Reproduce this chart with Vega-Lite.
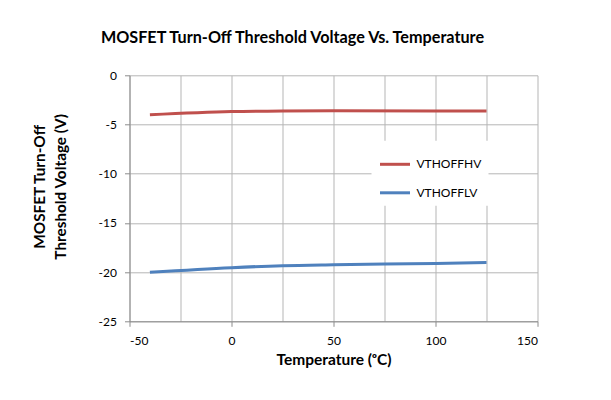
{
  "$schema": "https://vega.github.io/schema/vega-lite/v6.json",
  "autosize": "none",
  "width": 408,
  "height": 246,
  "padding": {"left": 129.5, "top": 75.3, "right": 73.5, "bottom": 78.7},
  "background": "white",
  "title": {
    "text": "MOSFET Turn-Off Threshold Voltage Vs. Temperature",
    "font": "Lato",
    "fontSize": 16.2,
    "fontWeight": "bold",
    "color": "#000000",
    "anchor": "middle",
    "frame": "group",
    "baseline": "alphabetic",
    "offset": 10,
    "dx": -41
  },
  "data": {
    "values": [
      {"temp": -40, "v": -4.02, "series": "VTHOFFHV"},
      {"temp": 0, "v": -3.69, "series": "VTHOFFHV"},
      {"temp": 25, "v": -3.62, "series": "VTHOFFHV"},
      {"temp": 50, "v": -3.6, "series": "VTHOFFHV"},
      {"temp": 100, "v": -3.62, "series": "VTHOFFHV"},
      {"temp": 125, "v": -3.64, "series": "VTHOFFHV"},
      {"temp": -40, "v": -20.02, "series": "VTHOFFLV"},
      {"temp": 0, "v": -19.55, "series": "VTHOFFLV"},
      {"temp": 25, "v": -19.35, "series": "VTHOFFLV"},
      {"temp": 50, "v": -19.25, "series": "VTHOFFLV"},
      {"temp": 100, "v": -19.12, "series": "VTHOFFLV"},
      {"temp": 125, "v": -19.02, "series": "VTHOFFLV"}
    ]
  },
  "resolve": {"axis": {"x": "independent", "y": "independent"}},
  "layer": [
    {
      "mark": {"type": "point", "opacity": 0},
      "encoding": {
        "x": {
          "field": "temp", "type": "quantitative",
          "scale": {"domain": [-50, 150], "nice": false, "zero": false},
          "axis": {"orient": "bottom", "values": [-25, 25, 75, 125], "labels": false, "ticks": false, "domain": false, "title": null, "grid": true, "gridColor": "#b5b5b5", "gridWidth": 1}
        },
        "y": {
          "field": "v", "type": "quantitative",
          "scale": {"domain": [-25, 0], "nice": false, "zero": false},
          "axis": null
        }
      }
    },
    {
      "mark": {"type": "line", "interpolate": "monotone", "strokeWidth": 3},
      "encoding": {
        "x": {
          "field": "temp", "type": "quantitative",
          "scale": {"domain": [-50, 150], "nice": false, "zero": false},
          "axis": {
            "orient": "bottom",
            "values": [-50, 0, 50, 100, 150],
            "labelExpr": "'' + datum.value",
            "title": "Temperature (ᵒC)",
            "grid": true, "gridColor": "#b5b5b5", "gridWidth": 1,
            "domainColor": "#8c8c8c", "tickColor": "#8c8c8c", "tickSize": 5,
            "labelFont": "Lato", "labelFontSize": 12, "labelColor": "#000000", "labelPadding": 9,
            "titleFont": "Lato", "titleFontSize": 15.5, "titleFontWeight": "bold", "titleColor": "#000000", "titlePadding": 6
          }
        },
        "y": {
          "field": "v", "type": "quantitative",
          "scale": {"domain": [-25, 0], "nice": false, "zero": false},
          "axis": {
            "orient": "left",
            "values": [-25, -20, -15, -10, -5, 0],
            "labelExpr": "'' + datum.value",
            "title": ["MOSFET Turn-Off", "Threshold Voltage (V)"],
            "grid": true, "gridColor": "#b5b5b5", "gridWidth": 1,
            "domainColor": "#8c8c8c", "tickColor": "#8c8c8c", "tickSize": 5,
            "labelFont": "Lato", "labelFontSize": 12, "labelColor": "#000000", "labelPadding": 8,
            "titleFont": "Lato", "titleFontSize": 15.3, "titleFontWeight": "bold", "titleColor": "#000000",
            "titleLineHeight": 21, "titleX": -90, "titleY": 111, "titleBaseline": "middle", "titleAngle": -90, "titleAlign": "center"
          }
        },
        "color": {
          "field": "series", "type": "nominal",
          "scale": {"domain": ["VTHOFFHV", "VTHOFFLV"], "range": ["#C0504D", "#4F81BD"]},
          "legend": {
            "title": null,
            "orient": "none",
            "legendX": 242,
            "legendY": 65.5,
            "fillColor": "white",
            "padding": 7,
            "symbolType": "stroke",
            "symbolSize": 900,
            "symbolStrokeWidth": 3,
            "rowPadding": 5.5,
            "labelOffset": 5,
            "labelFont": "Lato",
            "labelFontSize": 12,
            "labelColor": "#000000"
          }
        }
      }
    }
  ],
  "config": {
    "view": {"stroke": null}
  }
}
